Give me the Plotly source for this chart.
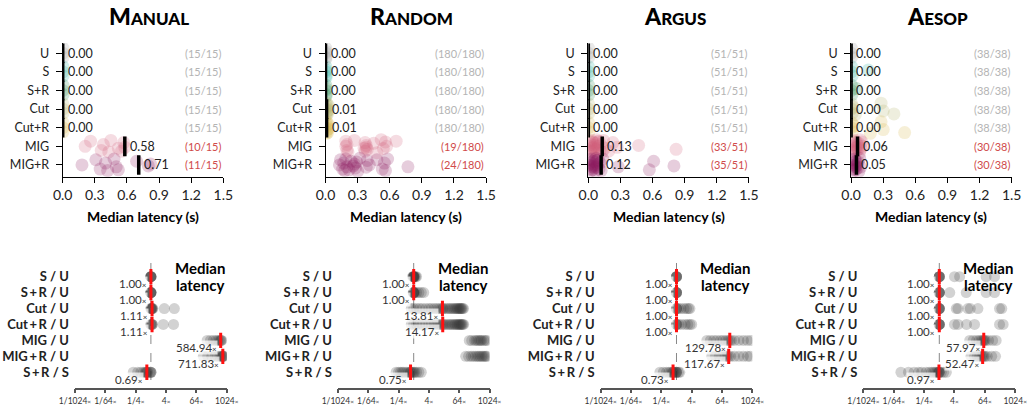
import plotly.graph_objects as go
import numpy as np

W, H = 1030, 412

SYSTEMS = ["Manual", "Random", "Argus", "Aesop"]
CATS = ["U", "S", "S+R", "Cut", "Cut+R", "MIG", "MIG+R"]
RATIO_LABELS = ["S / U", "S\u2009+\u2009R / U", "Cut / U", "Cut\u2009+\u2009R / U",
                "MIG / U", "MIG\u2009+\u2009R / U", "S\u2009+\u2009R / S"]
TOP_TICKS = [0.0, 0.3, 0.6, 0.9, 1.2, 1.5]
RATIO_TICKS = [2 ** -10, 2 ** -6, 2 ** -2, 4, 64, 1024]
RATIO_TICKTEXT = ["1/1024", "1/64", "1/4", "4", "64", "1024"]

# ---------- per-trial median latency (s) ----------
manual_lat = [
    [0.001, 0.002, 0.003],
    [0.001, 0.002, 0.004],
    [0.001, 0.003, 0.004],
    [0.001, 0.002, 0.003],
    [0.001, 0.002, 0.003],
    [0.21, 0.26, 0.36, 0.38, 0.43, 0.45, 0.52, 0.55, 0.57, 0.58],
    [0.18, 0.31, 0.35, 0.40, 0.42, 0.48, 0.50, 0.52, 0.69, 0.80, 0.82],
]
random_lat = [
    [0.001, 0.002, 0.003, 0.004, 0.005],
    [0.002, 0.003, 0.004, 0.005, 0.006],
    [0.002, 0.003, 0.004, 0.005, 0.006],
    [0.004, 0.006, 0.008, 0.01, 0.01, 0.012, 0.015, 0.02, 0.025, 0.03],
    [0.004, 0.006, 0.008, 0.01, 0.01, 0.012, 0.015, 0.02, 0.025, 0.03],
    [0.19, 0.19, 0.20, 0.20, 0.21, 0.27, 0.36, 0.37, 0.37, 0.38, 0.38, 0.39,
     0.45, 0.48, 0.52, 0.54, 0.56, 0.57, 0.66],
    [0.13, 0.14, 0.16, 0.17, 0.18, 0.19, 0.20, 0.22, 0.24, 0.26, 0.27, 0.28,
     0.29, 0.30, 0.32, 0.38, 0.39, 0.41, 0.48, 0.53, 0.55, 0.56, 0.58, 0.77],
]
argus_lat = [
    [0.001, 0.002, 0.004],
    [0.001, 0.002, 0.004],
    [0.001, 0.003, 0.005],
    [0.001, 0.003, 0.005],
    [0.001, 0.003, 0.006],
    [0.004, 0.012, 0.018, 0.02, 0.027, 0.031, 0.036, 0.042, 0.044, 0.05, 0.058,
     0.061, 0.066, 0.071, 0.079, 0.083, 0.088, 0.094, 0.1, 0.108, 0.115, 0.13,
     0.142, 0.155, 0.19, 0.23, 0.27, 0.47, 0.82],
    [0.003, 0.01, 0.014, 0.019, 0.024, 0.03, 0.033, 0.038, 0.045, 0.049, 0.052,
     0.058, 0.063, 0.067, 0.072, 0.078, 0.081, 0.087, 0.092, 0.1, 0.11, 0.12,
     0.135, 0.28, 0.57, 0.61, 0.80],
]
aesop_lat = [
    [0.001, 0.002, 0.004],
    [0.002, 0.004, 0.01, 0.16],
    [0.002, 0.004, 0.008, 0.05],
    [0.002, 0.005, 0.01, 0.02, 0.04, 0.28, 0.30, 0.40],
    [0.002, 0.005, 0.01, 0.03, 0.18, 0.28, 0.30, 0.50],
    [0.004, 0.01, 0.018, 0.024, 0.03, 0.037, 0.042, 0.048, 0.052, 0.058, 0.061,
     0.066, 0.072, 0.079, 0.085, 0.093, 0.1, 0.11],
    [0.003, 0.009, 0.014, 0.02, 0.026, 0.031, 0.037, 0.041, 0.046, 0.05, 0.055,
     0.06, 0.066, 0.073, 0.08, 0.088],
]

manual_med = [0.00, 0.00, 0.00, 0.00, 0.00, 0.58, 0.71]
random_med = [0.00, 0.00, 0.00, 0.01, 0.01, None, None]
argus_med = [0.00, 0.00, 0.00, 0.00, 0.00, 0.13, 0.12]
aesop_med = [0.00, 0.00, 0.00, 0.00, 0.00, 0.06, 0.05]

manual_ok = [15, 15, 15, 15, 15, 10, 11]
random_ok = [180, 180, 180, 180, 180, 19, 24]
argus_ok = [51, 51, 51, 51, 51, 33, 35]
aesop_ok = [38, 38, 38, 38, 38, 30, 30]
totals = [15, 180, 51, 38]

# ---------- per-trial latency ratios ----------
manual_ratio = [
    [0.98, 1.0, 1.0, 1.0, 1.0, 1.02],
    [0.98, 1.0, 1.0, 1.0, 1.0, 1.02],
    [1.0, 1.0, 1.05, 1.1, 1.11, 1.12, 1.2, 3.4, 8.5],
    [1.0, 1.0, 1.1, 1.11, 1.15, 3.1, 7.9],
    [170, 230, 300, 380, 450, 520, 584.94, 610, 650],
    [120, 180, 260, 350, 450, 550, 640, 700, 711.83, 740, 780],
    [0.2, 0.3, 0.4, 0.5, 0.6, 0.65, 0.69, 0.75, 0.9, 1.0, 1.0, 1.0],
]
random_ratio = [
    [0.9, 0.95, 1.0, 1.0, 1.0, 1.0, 1.05, 1.1, 1.2, 1.3],
    [0.95, 1.0, 1.0, 1.0, 1.0, 1.1, 1.3, 1.6, 2.0, 2.5],
    [0.8, 1.0, 1.3, 1.7, 2.2, 3.0, 4.0, 5.0, 6.5, 8.0, 10, 12, 13.81, 15, 18,
     22, 26, 30, 35, 40, 45, 50, 55, 60, 65, 70, 75, 80, 88, 95],
    [0.8, 1.0, 1.3, 1.7, 2.2, 3.0, 4.0, 5.0, 6.5, 8.0, 10, 12, 14.17, 16, 19,
     23, 27, 31, 36, 41, 46, 51, 56, 61, 66, 71, 76, 82, 89, 96],
    [160, 200, 260, 300, 350, 400, 450, 500, 600, 700, 800],
    [115, 150, 190, 230, 280, 330, 380, 430, 500, 560, 640, 720, 800],
    [0.2, 0.25, 0.3, 0.35, 0.4, 0.5, 0.6, 0.7, 0.75, 0.8, 0.9, 1.0, 1.1, 1.3, 1.6, 2.0],
]
argus_ratio = [
    [1.0, 1.0, 1.0, 1.0, 1.0],
    [1.0, 1.0, 1.0, 1.0, 1.0],
    [1.0, 1.0, 1.0, 1.2, 1.5, 2.0, 2.5, 3.0, 3.4],
    [1.0, 1.0, 1.0, 1.2, 1.6, 2.2, 2.8, 3.4, 4.0],
    [16, 22, 30, 40, 55, 70, 90, 110, 129.78, 150, 200, 300, 450, 650, 900],
    [25, 35, 50, 65, 85, 100, 117.67, 140, 200, 300, 450, 650, 830],
    [0.22, 0.3, 0.4, 0.5, 0.6, 0.7, 0.73, 0.8, 0.9, 1.0, 1.0, 1.0, 1.2, 1.35],
]
aesop_ratio = [
    [1.0, 1.0, 1.0, 1.0, 1.0, 4.0, 6.4, 72, 155],
    [1.0, 1.0, 1.0, 1.0, 1.0, 2.6, 11.7, 72, 155],
    [1.0, 1.0, 1.0, 1.0, 1.0, 4.7, 5.5, 13.6, 17, 34, 245, 300],
    [1.0, 1.0, 1.0, 1.0, 1.0, 4.0, 5.5, 12, 25, 245, 340],
    [16, 22, 30, 38, 45, 52, 57.97, 62, 70, 90, 130, 180],
    [18, 25, 32, 40, 47, 52.47, 58, 65, 80, 120, 170],
    [0.03, 0.06, 0.1, 0.15, 0.2, 0.3, 0.4, 0.5, 0.6, 0.7, 0.8, 0.9, 0.97, 1.0,
     1.0, 1.2, 1.5, 1.9],
]

manual_ratio_med = [1.00, 1.00, 1.11, 1.11, 584.94, 711.83, 0.69]
random_ratio_med = [1.00, 1.00, 13.81, 14.17, None, None, 0.75]
argus_ratio_med = [1.00, 1.00, 1.00, 1.00, 129.78, 117.67, 0.73]
aesop_ratio_med = [1.00, 1.00, 1.00, 1.00, 57.97, 52.47, 0.97]

LAT = [manual_lat, random_lat, argus_lat, aesop_lat]
MED = [manual_med, random_med, argus_med, aesop_med]
OK = [manual_ok, random_ok, argus_ok, aesop_ok]
RAT = [manual_ratio, random_ratio, argus_ratio, aesop_ratio]
RMED = [manual_ratio_med, random_ratio_med, argus_ratio_med, aesop_ratio_med]

# ---------- styles ----------
FONT = "Lato"
COLORS = ["#9a9a9a", "#2fb3a3", "#2e8b57", "#b3b36a", "#d6b84a", "#d2607c", "#8b1a5e"]
JIT = [0.0, -0.28, 0.22, -0.1, 0.3, -0.32, 0.1, 0.26, -0.2, 0.05, -0.05, 0.16,
       -0.16, 0.34, -0.36, 0.12, -0.24]
TOP_X0 = [62.7, 325.5, 588.3, 851.1]
TOP_W = 160.6
BOT_X0 = [75.0, 337.8, 600.6, 863.4]
BOT_W = 151.8
TOP_Y = (43.0, 176.7)
BOT_Y = (263.0, 387.7)


def times(s, size):
    return f"{s}<span style='font-size:{size}px'>×</span>"


def px(x):
    return x / W


def py(y):
    return 1 - y / H


def ax_name(n, kind):
    return kind if n == 1 else f"{kind}{n}"


fig = go.Figure()
annotations = []

for k, sysname in enumerate(SYSTEMS):
    # ---------------- top panel ----------------
    n = k + 1
    xr, yr = ax_name(n, "x"), ax_name(n, "y")
    for i, cat in enumerate(CATS):
        vals = LAT[k][i]
        ys = [i + JIT[j % len(JIT)] for j in range(len(vals))]
        fig.add_trace(go.Scatter(
            x=vals, y=ys, mode="markers", xaxis=xr, yaxis=yr,
            marker=dict(size=13, color=COLORS[i], opacity=0.22, line=dict(width=0)),
            hoverinfo="skip", showlegend=False))
    med_x = [m for m in MED[k] if m is not None]
    med_y = [i for i, m in enumerate(MED[k]) if m is not None]
    fig.add_trace(go.Scatter(
        x=med_x, y=med_y, mode="markers", xaxis=xr, yaxis=yr,
        marker=dict(symbol="line-ns", size=14, line=dict(width=3.5, color="black")),
        hoverinfo="skip", showlegend=False))
    for i, m in enumerate(MED[k]):
        if m is not None:
            annotations.append(dict(
                x=m, y=i, xref=xr, yref=yr, text=f"{m:.2f}", showarrow=False,
                xanchor="left", yanchor="middle", xshift=3,
                font=dict(family=FONT, size=12.5, color="#222")))
        ok = OK[k][i]
        tot = totals[k]
        annotations.append(dict(
            x=1.5, y=i, xref=xr, yref=yr, text=f"({ok}/{tot})", showarrow=False,
            xanchor="right", yanchor="middle",
            font=dict(family=FONT, size=11, color="#b4b4b4" if ok == tot else "#d04a4a")))
    fig.layout["xaxis" if n == 1 else f"xaxis{n}"] = dict(
        domain=[px(TOP_X0[k]), px(TOP_X0[k] + TOP_W)], anchor=yr, automargin=False,
        range=[0, 1.5], tickvals=TOP_TICKS, ticktext=[f"{t:.1f}" for t in TOP_TICKS],
        showline=True, linecolor="black", linewidth=1, ticks="outside", ticklen=5,
        tickcolor="black", showgrid=False, zeroline=False, tickangle=0,
        tickfont=dict(family=FONT, size=14, color="#222"))
    fig.layout["yaxis" if n == 1 else f"yaxis{n}"] = dict(
        domain=[py(TOP_Y[1]), py(TOP_Y[0])], anchor=xr, automargin=False,
        range=[6.63, -0.55], tickvals=list(range(7)), ticktext=CATS,
        showline=True, linecolor="black", linewidth=1, ticks="outside", ticklen=6,
        tickcolor="black", showgrid=False, zeroline=False, ticklabelstandoff=4,
        tickfont=dict(family=FONT, size=12.5, color="#222"))
    annotations.append(dict(
        x=px(TOP_X0[k] + TOP_W / 2 + 6), y=py(16), xref="paper", yref="paper",
        text=f"{sysname[0].upper()}<span style='font-size:17px'>{sysname[1:].upper()}</span>",
        showarrow=False, xanchor="center", yanchor="middle",
        font=dict(family=FONT, size=23, color="black", weight=900)))
    annotations.append(dict(
        x=px(TOP_X0[k] + TOP_W / 2), y=py(216), xref="paper", yref="paper",
        text="Median latency (s)", showarrow=False, xanchor="center", yanchor="middle",
        font=dict(family=FONT, size=14, color="black", weight=700)))

    # ---------------- bottom panel ----------------
    m2 = k + 5
    xr2, yr2 = ax_name(m2, "x"), ax_name(m2, "y")
    fig.add_trace(go.Scatter(
        x=[1, 1], y=[-0.86, 6.97], mode="lines", xaxis=xr2, yaxis=yr2,
        line=dict(color="#888", width=1, dash="dash"), hoverinfo="skip", showlegend=False))
    for i in range(7):
        vals = RAT[k][i]
        fig.add_trace(go.Scatter(
            x=vals, y=[i] * len(vals), mode="markers", xaxis=xr2, yaxis=yr2,
            marker=dict(size=11, color="#333", opacity=0.22, line=dict(width=0)),
            hoverinfo="skip", showlegend=False))
    rm_x = [m for m in RMED[k] if m is not None]
    rm_y = [i for i, m in enumerate(RMED[k]) if m is not None]
    fig.add_trace(go.Scatter(
        x=rm_x, y=rm_y, mode="markers", xaxis=xr2, yaxis=yr2,
        marker=dict(symbol="line-ns", size=11, line=dict(width=3, color="#ff1010")),
        hoverinfo="skip", showlegend=False))
    for i, m in enumerate(RMED[k]):
        if m is None:
            continue
        annotations.append(dict(
            x=np.log10(m), y=i, xref=xr2, yref=yr2, text=times(f"{m:.2f}", 8),
            showarrow=False, xanchor="right", yanchor="middle", xshift=-3, yshift=-7,
            bgcolor="rgba(255,255,255,0.72)", borderpad=0,
            font=dict(family=FONT, size=11.5, color="#333")))
    fig.layout[f"xaxis{m2}"] = dict(
        domain=[px(BOT_X0[k]), px(BOT_X0[k] + BOT_W)], anchor=yr2, type="log",
        automargin=False, range=[np.log10(2 ** -10), np.log10(2 ** 10)],
        tickvals=RATIO_TICKS, ticktext=[times(t, 6.5) for t in RATIO_TICKTEXT],
        tickangle=0,
        showline=True, linecolor="#555", linewidth=1.5, ticks="outside", ticklen=4,
        tickwidth=1.5, tickcolor="#555", showgrid=False, zeroline=False,
        tickfont=dict(family=FONT, size=8.5, color="#333"))
    fig.layout[f"yaxis{m2}"] = dict(
        domain=[py(BOT_Y[1]), py(BOT_Y[0])], anchor=xr2, automargin=False,
        range=[6.97, -0.86], tickvals=list(range(7)), ticktext=RATIO_LABELS,
        showline=False, ticks="", showgrid=False, zeroline=False, ticklabelstandoff=5,
        tickfont=dict(family=FONT, size=13, color="#222", weight=700))
    right = BOT_X0[k] + BOT_W
    annotations.append(dict(
        x=px(right - 27), y=py(268), xref="paper", yref="paper", text="Median",
        showarrow=False, xanchor="center", yanchor="middle",
        font=dict(family=FONT, size=15, color="black", weight=700)))
    annotations.append(dict(
        x=px(right - 27), y=py(285), xref="paper", yref="paper", text="latency",
        showarrow=False, xanchor="center", yanchor="middle",
        font=dict(family=FONT, size=15, color="black", weight=700)))

fig.update_layout(
    width=W, height=H, margin=dict(l=0, r=0, t=0, b=0),
    paper_bgcolor="white", plot_bgcolor="white",
    annotations=annotations, showlegend=False,
    font=dict(family=FONT))

fig.write_html("out.html", config={"displayModeBar": False},
               post_script="document.body.style.margin='0px';")
